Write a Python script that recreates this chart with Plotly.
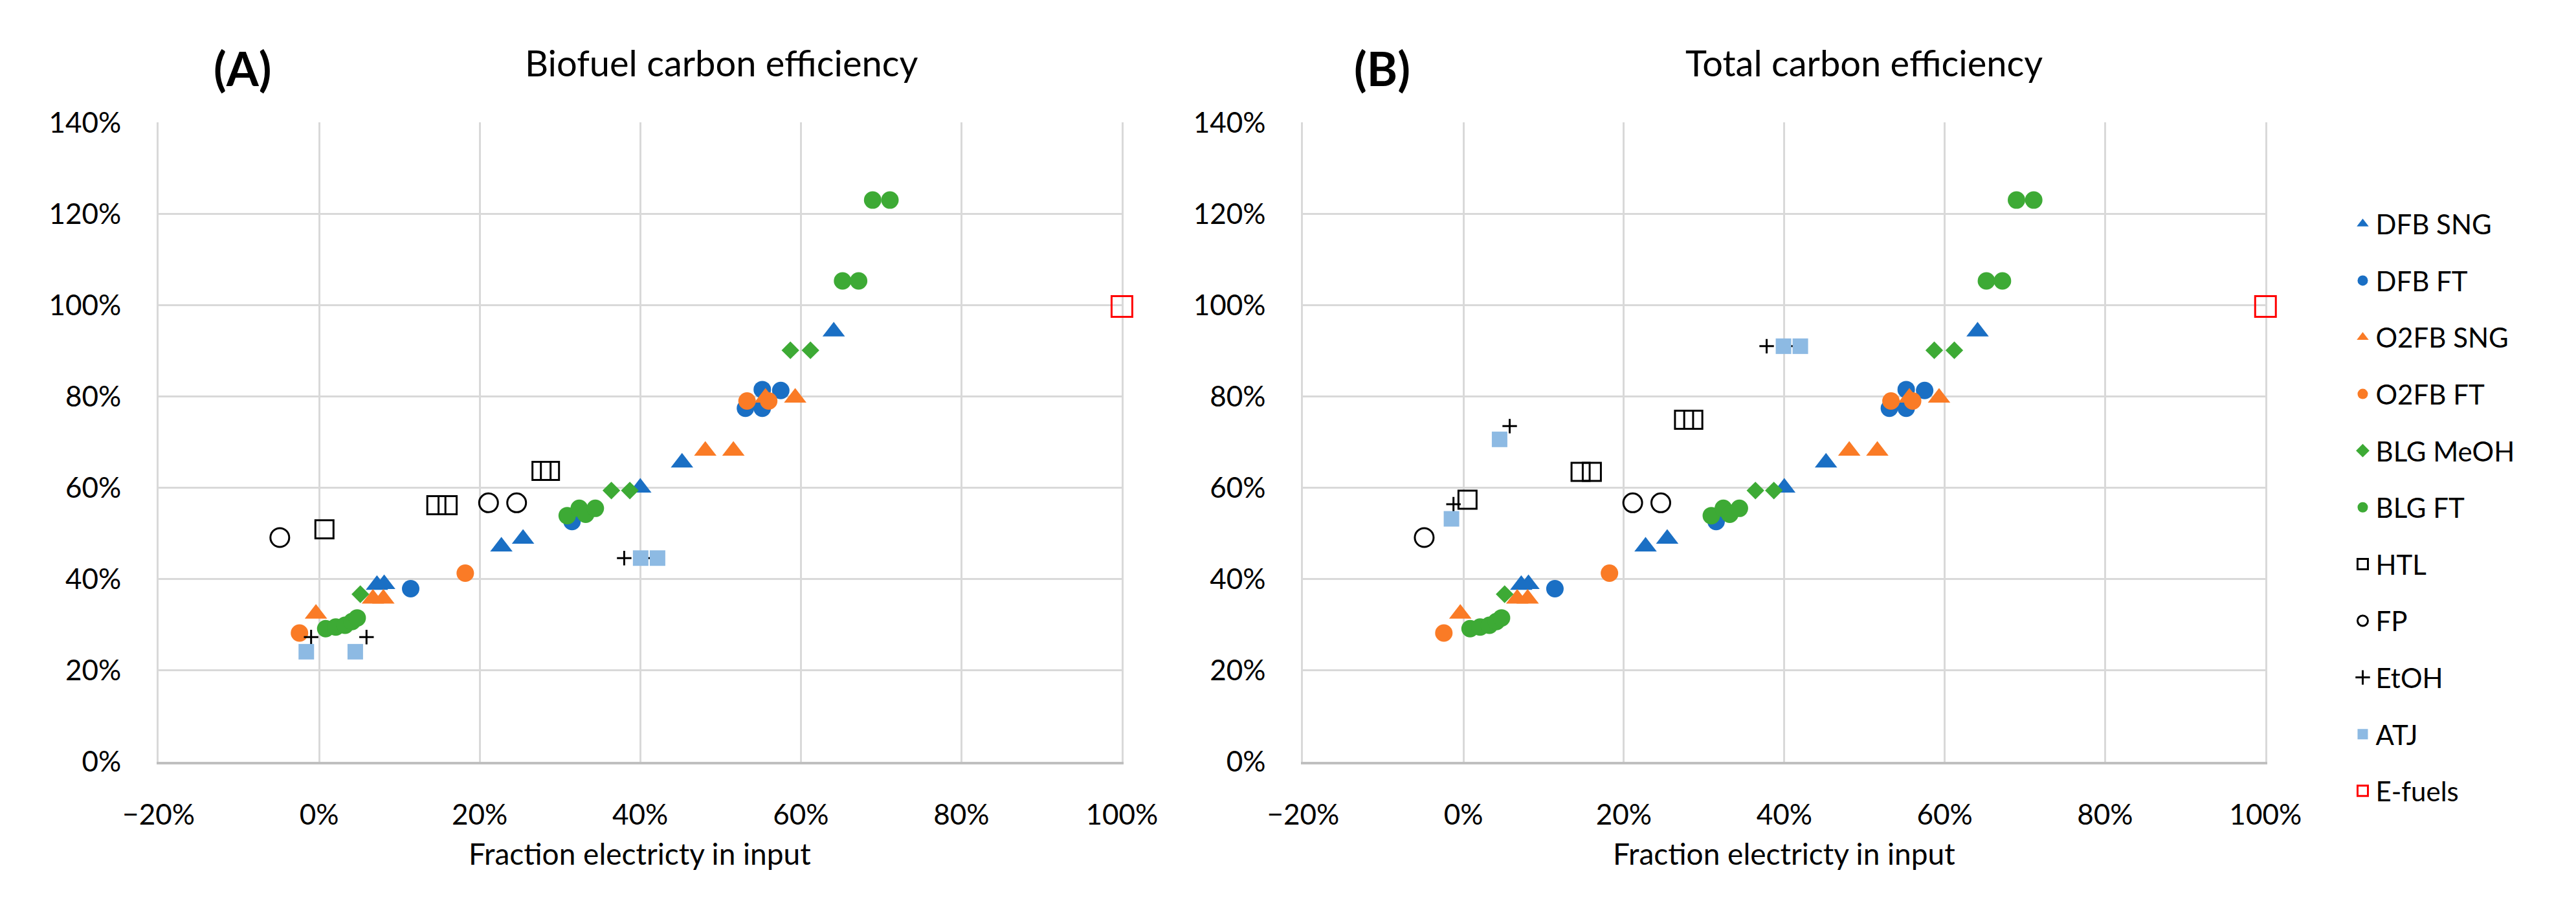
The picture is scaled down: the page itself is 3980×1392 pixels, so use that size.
import plotly.graph_objects as go

# ---------------- data (fractions) ----------------
series_names = ["DFB SNG", "DFB FT", "O2FB SNG", "O2FB FT", "BLG MeOH", "BLG FT",
                "HTL", "FP", "EtOH", "ATJ", "E-fuels"]

# shared by both panels
dfb_sng_x = [0.072, 0.081, 0.227, 0.254, 0.400, 0.452, 0.641]
dfb_sng_y = [0.387, 0.389, 0.471, 0.488, 0.600, 0.655, 0.942]
dfb_ft_x = [0.114, 0.315, 0.531, 0.552, 0.552, 0.575]
dfb_ft_y = [0.379, 0.526, 0.774, 0.774, 0.815, 0.813]
o2fb_sng_x = [-0.004, 0.067, 0.080, 0.481, 0.516, 0.556, 0.593]
o2fb_sng_y = [0.324, 0.357, 0.357, 0.681, 0.681, 0.797, 0.797]
o2fb_ft_x = [-0.0245, 0.182, 0.533, 0.560]
o2fb_ft_y = [0.282, 0.413, 0.790, 0.790]
blg_meoh_x = [0.0513, 0.364, 0.387, 0.587, 0.612]
blg_meoh_y = [0.367, 0.594, 0.594, 0.901, 0.901]
blg_ft_x = [0.0082, 0.0207, 0.0323, 0.041, 0.0474, 0.309, 0.324, 0.332, 0.344,
            0.652, 0.672, 0.6895, 0.711]
blg_ft_y = [0.2915, 0.295, 0.299, 0.307, 0.315, 0.539, 0.555, 0.542, 0.555,
            1.053, 1.053, 1.230, 1.230]
fp_x = [-0.049, 0.211, 0.246]
fp_y = [0.491, 0.567, 0.567]
efuel_x = [1.00]
efuel_y = [0.997]

# panel A (biofuel carbon efficiency)
htl_a_x = [0.0066, 0.146, 0.160, 0.277, 0.2875]
htl_a_y = [0.509, 0.562, 0.562, 0.637, 0.637]
etoh_a_x = [-0.010, 0.059, 0.380, 0.417]
etoh_a_y = [0.273, 0.273, 0.446, 0.446]
atj_a_x = [-0.016, 0.045, 0.4005, 0.4215]
atj_a_y = [0.241, 0.241, 0.446, 0.446]

# panel B (total carbon efficiency)
htl_b_x = [0.005, 0.146, 0.160, 0.275, 0.2865]
htl_b_y = [0.574, 0.635, 0.635, 0.749, 0.749]
etoh_b_x = [-0.0125, 0.0576, 0.378, 0.415]
etoh_b_y = [0.564, 0.735, 0.910, 0.910]
atj_b_x = [-0.015, 0.045, 0.399, 0.420]
atj_b_y = [0.532, 0.706, 0.910, 0.910]

x_ticks = [-0.2, 0.0, 0.2, 0.4, 0.6, 0.8, 1.0]
y_ticks = [0.0, 0.2, 0.4, 0.6, 0.8, 1.0, 1.2, 1.4]

# ---------------- styles ----------------
BLUE = "#1A6FC4"
ORANGE = "#FA7B26"
GREEN = "#3DAA35"
LBLUE = "#8DBAE3"
FONT = "Lato"

styles = {
    "DFB SNG": dict(symbol="triangle-up", size=30, color=BLUE),
    "DFB FT": dict(symbol="circle", size=27, color=BLUE),
    "O2FB SNG": dict(symbol="triangle-up", size=30, color=ORANGE),
    "O2FB FT": dict(symbol="circle", size=27, color=ORANGE),
    "BLG MeOH": dict(symbol="diamond", size=21, color=GREEN),
    "BLG FT": dict(symbol="circle", size=27, color=GREEN),
    "HTL": dict(symbol="square-open", size=28, color="black", line=dict(width=3, color="black")),
    "FP": dict(symbol="circle-open", size=29, color="black", line=dict(width=3, color="black")),
    "EtOH": dict(symbol="cross-thin-open", size=16, color="black", line=dict(width=3, color="black")),
    "ATJ": dict(symbol="square", size=24, color=LBLUE),
    "E-fuels": dict(symbol="square-open", size=32, color="#FF0000", line=dict(width=3, color="#FF0000")),
}

panel_a = {
    "DFB SNG": (dfb_sng_x, dfb_sng_y), "DFB FT": (dfb_ft_x, dfb_ft_y),
    "O2FB SNG": (o2fb_sng_x, o2fb_sng_y), "O2FB FT": (o2fb_ft_x, o2fb_ft_y),
    "BLG MeOH": (blg_meoh_x, blg_meoh_y), "BLG FT": (blg_ft_x, blg_ft_y),
    "HTL": (htl_a_x, htl_a_y), "FP": (fp_x, fp_y), "EtOH": (etoh_a_x, etoh_a_y),
    "ATJ": (atj_a_x, atj_a_y), "E-fuels": (efuel_x, efuel_y),
}
panel_b = {
    "DFB SNG": (dfb_sng_x, dfb_sng_y), "DFB FT": (dfb_ft_x, dfb_ft_y),
    "O2FB SNG": (o2fb_sng_x, o2fb_sng_y), "O2FB FT": (o2fb_ft_x, o2fb_ft_y),
    "BLG MeOH": (blg_meoh_x, blg_meoh_y), "BLG FT": (blg_ft_x, blg_ft_y),
    "HTL": (htl_b_x, htl_b_y), "FP": (fp_x, fp_y), "EtOH": (etoh_b_x, etoh_b_y),
    "ATJ": (atj_b_x, atj_b_y), "E-fuels": (efuel_x, efuel_y),
}

fig = go.Figure()
for panel, (xa, ya, show) in ((panel_a, ("x", "y", True)), (panel_b, ("x2", "y2", False))):
    for name in series_names:
        xs, ys = panel[name]
        fig.add_trace(go.Scatter(
            x=xs, y=ys, mode="markers", name=name, legendgroup=name,
            showlegend=show, xaxis=xa, yaxis=ya, cliponaxis=False,
            marker=styles[name],
        ))

W, H = 3980, 1392
ax_x = dict(range=[-0.2, 1.0], tickvals=x_ticks, tickformat=".0%",
            showgrid=True, gridcolor="#D9D9D9", gridwidth=3, zeroline=False,
            showline=True, linecolor="#BFBFBF", linewidth=4, layer="below traces",
            ticks="", ticklabelstandoff=40,
            tickfont=dict(family=FONT, size=44, color="black"))
ax_y = dict(range=[0, 1.4], tickvals=y_ticks, tickformat=".0%",
            showgrid=True, gridcolor="#D9D9D9", gridwidth=3, zeroline=False,
            showline=True, linecolor="#D9D9D9", linewidth=3, mirror=True,
            layer="below traces",
            ticks="", ticklabelstandoff=46,
            tickfont=dict(family=FONT, size=44, color="black"))

ydom = [1 - 1193.5 / H, 1 - 167.4 / H]
fig.update_layout(
    width=W, height=H, margin=dict(l=0, r=0, t=0, b=0),
    plot_bgcolor="white", paper_bgcolor="white",
    xaxis=dict(ax_x, domain=[194.5 / W, 1726 / W], anchor="y"),
    yaxis=dict(ax_y, domain=ydom, anchor="x"),
    xaxis2=dict(ax_x, domain=[2014 / W, 3544 / W], anchor="y2"),
    yaxis2=dict(ax_y, domain=ydom, anchor="x2"),
    legend=dict(x=3678 / W, y=1 - 295 / H, xanchor="left", yanchor="top",
                font=dict(family=FONT, size=42, color="black"),
                tracegroupgap=30, itemsizing="trace", bgcolor="rgba(0,0,0,0)"),
    font=dict(family=FONT, color="black"),
)

ann = [
    dict(text="(A)", x=328.5 / W, y=1 - 80 / H, size=72, bold=True),
    dict(text="(B)", x=2139.5 / W, y=1 - 80 / H, size=72, bold=True),
    dict(text="Biofuel carbon efficiency", x=1089.5 / W, y=1 - 71 / H, size=56),
    dict(text="Total carbon efficiency", x=2906 / W, y=1 - 71 / H, size=56),
    dict(text="Fraction electricty in input", x=960 / W, y=1 - 1341 / H, size=46),
    dict(text="Fraction electricty in input", x=2779 / W, y=1 - 1341 / H, size=46),
]
for a in ann:
    txt = a["text"]
    if a.get("bold"):
        txt = "<b>" + txt + "</b>"
    fig.add_annotation(text=txt, x=a["x"], y=a["y"], xref="paper", yref="paper",
                       xanchor="center", yanchor="middle", showarrow=False,
                       font=dict(family=FONT, size=a["size"], color="black"))

fig.write_html("out.html", config={"displayModeBar": False},
               post_script="document.body.style.margin='0';document.body.style.overflow='hidden';")
